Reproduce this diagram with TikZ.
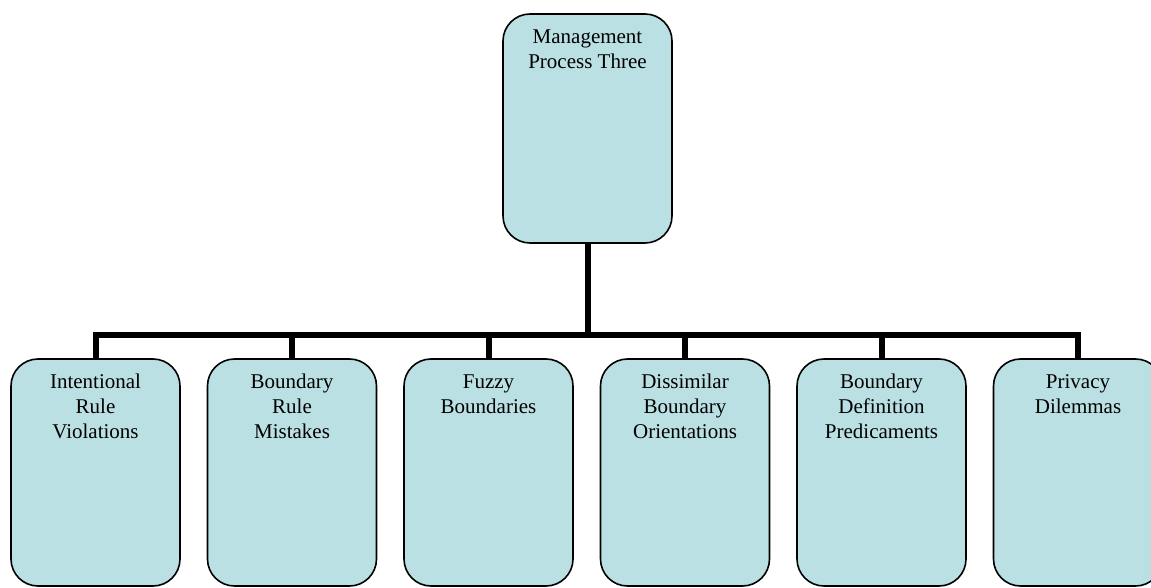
\documentclass[tikz,border=0pt]{standalone}
\usepackage{fontspec}
\setmainfont{Liberation Serif}
\usetikzlibrary{positioning}
\definecolor{boxblue}{RGB}{187,224,227}
\newcommand{\boxtext}[1]{\parbox[c][204pt][t]{150pt}{\centering\strut #1}}

\begin{document}
\begin{tikzpicture}[x=1pt, y=1pt]
      \tikzstyle{every node} = [align=center, draw, rectangle, rounded corners=27pt, fill=boxblue, line width=1.6pt, minimum width=169pt, minimum height=227pt, inner sep=0pt, outer sep=0pt, font=\fontsize{21}{25}\selectfont, node distance=27.5pt]
      \tikzstyle{link} = [line width=6pt]
      \useasboundingbox (0,0) rectangle (1151,587);
      \clip (0,0) rectangle (1151,587);

      \node[minimum height=229pt](mp3) at (587.5,458.5){\boxtext{Management\\Process Three}};
      \node(irv) at (95.5,114.5){\boxtext{Intentional\\Rule\\Violations}};
      \node[right=of irv](brm){\boxtext{Boundary\\Rule\\Mistakes}};
      \node[right=of brm](fb){\boxtext{Fuzzy\\Boundaries}};
      \node[right=of fb](dbo){\boxtext{Dissimilar\\Boundary\\Orientations}};
      \node[right=of dbo](bdp){\boxtext{Boundary\\Definition\\Predicaments}};
      \node[right=of bdp](pd){\boxtext{Privacy\\Dilemmas}};

      \coordinate (bar) at (0,251.5);
      \foreach \n in {irv,brm,fb,dbo,bdp,pd}
            \draw[link] (mp3.south) -- (mp3.south |- bar) -| (\n.north);
\end{tikzpicture}
\end{document}
